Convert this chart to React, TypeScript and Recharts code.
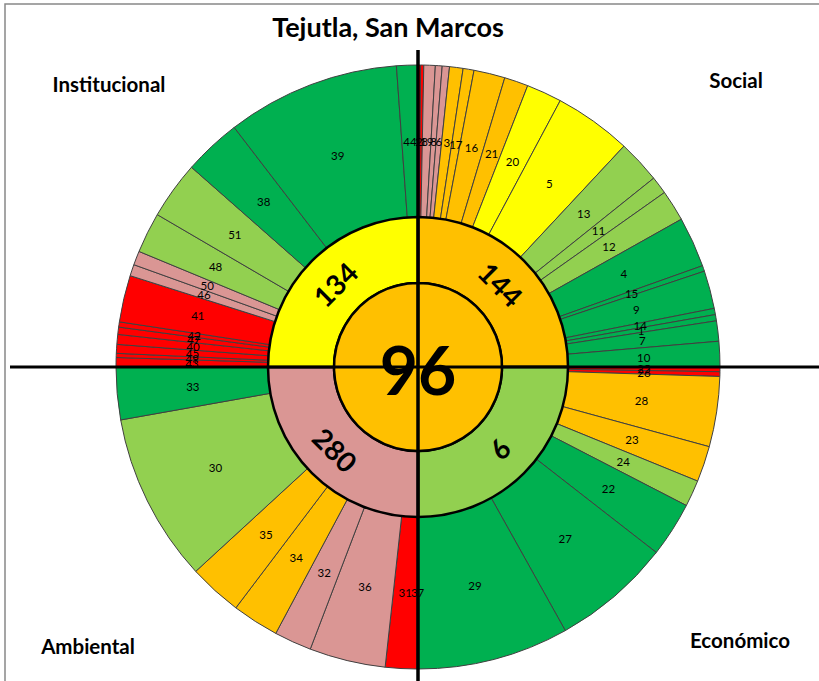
import React from 'react';
import { PieChart, Pie, Cell } from 'recharts';

// indicator numbers per dimension, clockwise from the axis, with their share of the quadrant (deg)
const socialIds = ['2', '18', '19', '8', '6', '3', '17', '16', '21', '20', '5', '13', '11', '12', '4', '15', '9', '14', '1', '7', '10'];
const socialSpans = [0.5, 0.6, 2.2, 1.3, 1.4, 2.6, 2.1, 6.0, 4.6, 6.8, 14.9, 8.3, 3.4, 6.0, 9.7, 1.1, 7.3, 1.2, 1.2, 3.9, 4.9];
const socialRatings = ['R', 'R', 'P', 'P', 'P', 'O', 'O', 'O', 'O', 'Y', 'Y', 'L', 'L', 'L', 'G', 'G', 'G', 'G', 'G', 'G', 'G'];

const economicIds = ['25', '26', '28', '23', '24', '22', '27', '29'];
const economicSpans = [0.9, 0.9, 13.5, 6.9, 5.1, 10.6, 22.9, 29.2];
const economicRatings = ['R', 'R', 'O', 'O', 'L', 'G', 'G', 'G'];

const environmentIds = ['37', '31', '36', '32', '34', '35', '30', '33'];
const environmentSpans = [0.2, 6.05, 14.65, 7.2, 9.0, 10.3, 32.5, 10.1];
const environmentRatings = ['R', 'R', 'P', 'P', 'O', 'O', 'L', 'G'];

const institutionIds = ['43', '49', '45', '40', '47', '42', '41', '46', '50', '48', '51', '38', '39', '44'];
const institutionSpans = [1.8, 0.8, 1.7, 1.9, 1.4, 1.0, 9.0, 2.2, 2.7, 7.8, 11.1, 11.1, 33.4, 4.1];
const institutionRatings = ['R', 'R', 'R', 'R', 'R', 'R', 'R', 'P', 'P', 'L', 'L', 'G', 'G', 'G'];

const dimensions = ['Social', 'Económico', 'Ambiental', 'Institucional'];
const dimensionScores = [144, 9, 280, 134];
const dimensionRatings = ['O', 'L', 'P', 'Y'];

const title = 'Tejutla, San Marcos';
const totalScore = 96;
const totalRating = 'O';

const PALETTE: Record<string, string> = {
  R: '#FF0000',
  P: '#DA9694',
  O: '#FFC000',
  Y: '#FFFF00',
  L: '#92D050',
  G: '#00B050',
};

const FONT = 'Lato, "Liberation Sans", sans-serif';
const RAD = Math.PI / 180;
const CX = 418;
const CY = 367;

const groups = [
  { ids: socialIds, spans: socialSpans, ratings: socialRatings },
  { ids: economicIds, spans: economicSpans, ratings: economicRatings },
  { ids: environmentIds, spans: environmentSpans, ratings: environmentRatings },
  { ids: institutionIds, spans: institutionSpans, ratings: institutionRatings },
];

const outerData = groups.flatMap((g) =>
  g.ids.map((id, i) => ({ id, value: g.spans[i], rating: g.ratings[i] })),
);

const middleData = dimensions.map((name, i) => ({
  name,
  score: dimensionScores[i],
  rating: dimensionRatings[i],
  value: groups[i].spans.reduce((a, b) => a + b, 0),
}));

const centerData = [{ name: 'total', value: 1, score: totalScore, rating: totalRating }];

const MIDDLE_ROTATION = [45, 135, 45, -45];

function outerLabel(props: any) {
  const { cx, cy, midAngle, innerRadius, outerRadius, name } = props;
  const r = (innerRadius + outerRadius) / 2;
  const x = cx + r * Math.cos(-midAngle * RAD);
  const y = cy + r * Math.sin(-midAngle * RAD);
  return (
    <text x={x} y={y} textAnchor="middle" dominantBaseline="central" fontSize={11.5} fontFamily={FONT} fill="#000">
      {name}
    </text>
  );
}

function middleLabel(props: any) {
  const { cx, cy, midAngle, innerRadius, outerRadius, index, payload } = props;
  const r = (innerRadius + outerRadius) / 2;
  const x = cx + r * Math.cos(-midAngle * RAD);
  const y = cy + r * Math.sin(-midAngle * RAD);
  const score = payload?.score ?? dimensionScores[index];
  return (
    <text
      x={x}
      y={y}
      textAnchor="middle"
      dominantBaseline="central"
      fontSize={28}
      fontWeight="bold"
      fontFamily={FONT}
      fill="#000"
      transform={`rotate(${MIDDLE_ROTATION[index]} ${x} ${y})`}
    >
      {score}
    </text>
  );
}

function centerLabel(props: any) {
  const { cx, cy } = props;
  return (
    <text x={cx} y={cy + 2} textAnchor="middle" dominantBaseline="central" fontSize={66} fontWeight="bold" fontFamily={FONT} fill="#000">
      {totalScore}
    </text>
  );
}

export default function App() {
  return (
    <div style={{ position: 'absolute', left: 0, top: 0, width: 819, height: 681, background: '#fff', overflow: 'hidden' }}>
      <PieChart width={819} height={681} margin={{ top: 0, right: 0, bottom: 0, left: 0 }}>
        <Pie
          data={outerData}
          dataKey="value"
          nameKey="id"
          cx={CX}
          cy={CY}
          innerRadius={150}
          outerRadius={302}
          startAngle={90}
          endAngle={-270}
          stroke="#404040"
          strokeWidth={1}
          label={outerLabel}
          labelLine={false}
          isAnimationActive={false}
        >
          {outerData.map((d, i) => (
            <Cell key={i} fill={PALETTE[d.rating]} />
          ))}
        </Pie>
        <Pie
          data={middleData}
          dataKey="value"
          nameKey="name"
          cx={CX}
          cy={CY}
          innerRadius={84}
          outerRadius={150}
          startAngle={90}
          endAngle={-270}
          stroke="#000"
          strokeWidth={2.5}
          label={middleLabel}
          labelLine={false}
          isAnimationActive={false}
        >
          {middleData.map((d, i) => (
            <Cell key={i} fill={PALETTE[d.rating]} />
          ))}
        </Pie>
        <Pie
          data={centerData}
          dataKey="value"
          nameKey="name"
          cx={CX}
          cy={CY}
          innerRadius={0}
          outerRadius={84}
          startAngle={90}
          endAngle={-270}
          stroke="#000"
          strokeWidth={2.5}
          label={centerLabel}
          labelLine={false}
          isAnimationActive={false}
        >
          {centerData.map((d, i) => (
            <Cell key={i} fill={PALETTE[d.rating]} />
          ))}
        </Pie>
      </PieChart>
      <svg width={819} height={681} style={{ position: 'absolute', left: 0, top: 0, pointerEvents: 'none' }}>
        <rect x={5} y={4} width={830} height={700} fill="none" stroke="#888" strokeWidth={1.5} />
        <line x1={10} y1={CY} x2={819} y2={CY} stroke="#000" strokeWidth={3} />
        <line x1={CX} y1={50} x2={CX} y2={681} stroke="#000" strokeWidth={3.5} />
        <text x={388} y={37} textAnchor="middle" fontSize={27} fontWeight="bold" fontFamily={FONT}>{title}</text>
        <text x={109} y={92} textAnchor="middle" fontSize={20.5} fontWeight="bold" fontFamily={FONT}>{dimensions[3]}</text>
        <text x={736} y={88} textAnchor="middle" fontSize={20.5} fontWeight="bold" fontFamily={FONT}>{dimensions[0]}</text>
        <text x={88} y={654} textAnchor="middle" fontSize={20.5} fontWeight="bold" fontFamily={FONT}>{dimensions[2]}</text>
        <text x={740} y={648} textAnchor="middle" fontSize={20.5} fontWeight="bold" fontFamily={FONT}>{dimensions[1]}</text>
      </svg>
    </div>
  );
}
